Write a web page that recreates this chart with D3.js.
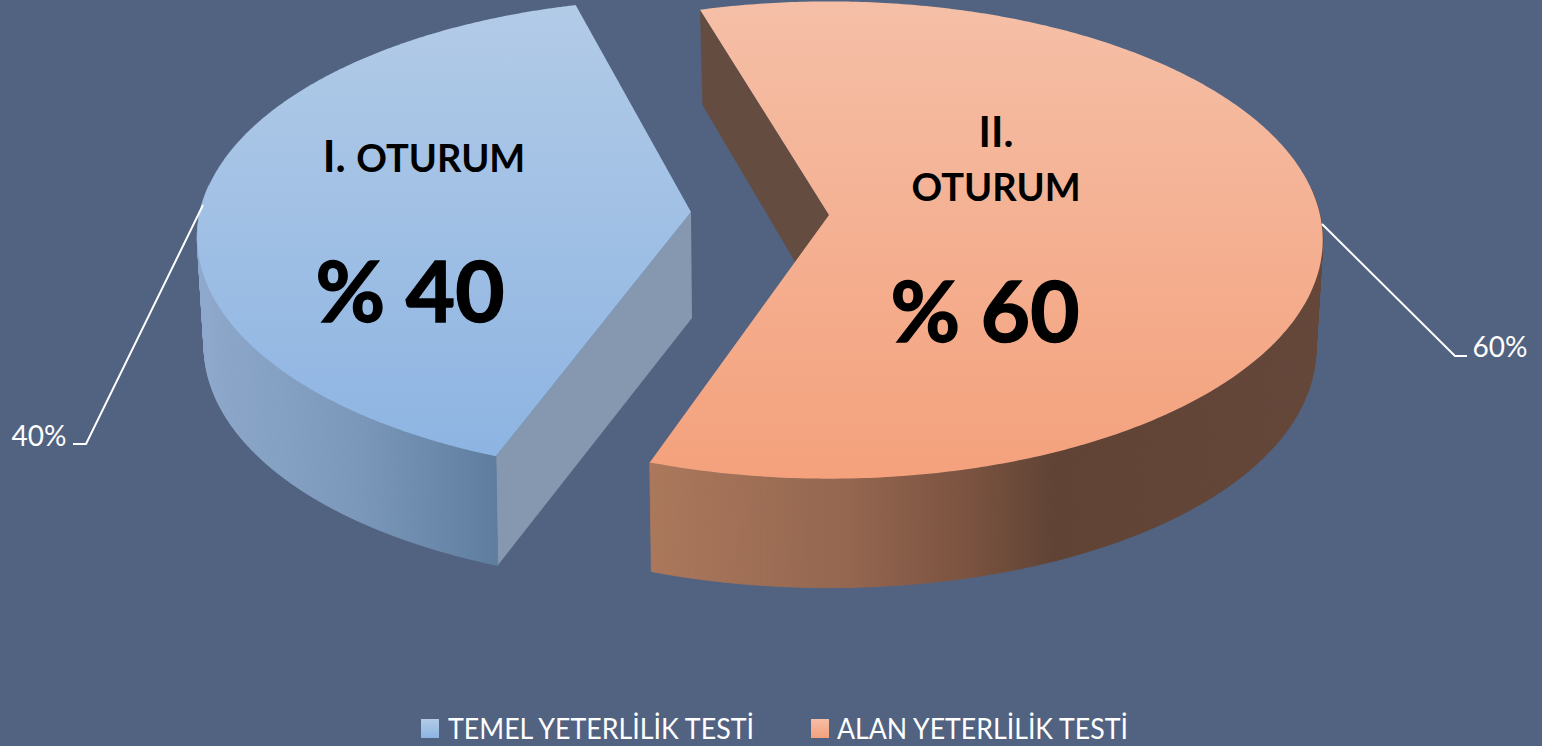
<!DOCTYPE html>
<html><head><meta charset="utf-8">
<style>html,body{margin:0;padding:0;background:#516381;overflow:hidden}svg{display:block}text{font-family:Lato,sans-serif}</style>
<script src="https://cdn.jsdelivr.net/npm/d3@7"></script>
</head><body><svg id="c" width="1542" height="746"></svg>
<script>
const seriesNames = ["TEMEL YETERLİLİK TESTİ", "ALAN YETERLİLİK TESTİ"];
const seriesValues = [40, 60];
const sliceLabels = ["40%", "60%"];

const W = 1542, H = 746;
const svg = d3.select("#c");
const defs = svg.append("defs");
const deg = Math.PI / 180;
const pie = d3.pie().sort(null).startAngle(199 * deg).endAngle((199 + 360) * deg);
const arcs = pie(seriesValues);

const R = 491, B = 236, K = 0.105, depth = 106, RB = 484, BB = 244, KB = 0.085, KX = 0.11;
const looks = [
  {c: [691, 212], rot: 2.0 * deg, top: ["#b2cbe7", "#8db4e2"], wall: [[0, "#8ea9cb"], [0.5, "#7c99bb"], [1, "#5e7d9e"]], face: "#8598b0", wx: [205, 501], ty: [5, 460]},
  {c: [829, 215], rot: 0.2 * deg, top: ["#f5bfa7", "#f4a17c"], wall: [[0, "#ab785b"], [0.3, "#946650"], [0.48, "#7a523f"], [0.6, "#614335"], [1, "#654739"]], face: "#644c40", wx: [650, 1320], ty: [2, 480]}
];
function topPt(c, a) {
  const u = Math.sin(a), v = -Math.cos(a), s = 1 / (1 - K * v);
  return [c[0] + R * u * s, c[1] + B * v * s];
}
function botPt(c, a) {
  const u = Math.sin(a), v = -Math.cos(a), s = 1 / (1 - KB * v), sx = 1 / (1 - KX * v);
  return [c[0] + RB * u * sx, c[1] + depth + BB * v * s];
}
const samples = (a0, a1) => d3.range(0, 361).map(i => a0 + (a1 - a0) * i / 360);
const line = d3.line();

arcs.forEach((d, i) => {
  const L = looks[i];
  const a0 = d.startAngle + L.rot, a1 = d.endAngle + L.rot;
  const gt = defs.append("linearGradient").attr("id", "top" + i).attr("gradientUnits", "userSpaceOnUse")
    .attr("x1", 0).attr("x2", 0).attr("y1", L.ty[0]).attr("y2", L.ty[1]);
  gt.append("stop").attr("offset", 0).attr("stop-color", L.top[0]);
  gt.append("stop").attr("offset", 1).attr("stop-color", L.top[1]);
  const gw = defs.append("linearGradient").attr("id", "wall" + i).attr("gradientUnits", "userSpaceOnUse")
    .attr("x1", L.wx[0]).attr("x2", L.wx[1]).attr("y1", 0).attr("y2", 0);
  L.wall.forEach(s => gw.append("stop").attr("offset", s[0]).attr("stop-color", s[1]));
  const c = L.c;
  const as = samples(a0, a1);
  // flat cut face at the slice's first edge
  svg.append("path").attr("d", line([c, topPt(c, a0), botPt(c, a0), [c[0] + 1, c[1] + depth]]) + "Z").attr("fill", L.face);
  // outer wall: swept quads on the viewer-facing part of the rim
  const front = as.filter(a => -Math.cos(a) > -0.12);
  const wall = svg.append("g").attr("fill", `url(#wall${i})`).attr("stroke", `url(#wall${i})`).attr("stroke-width", 0.8);
  d3.pairs(front).forEach(([p, q]) => {
    if (q - p > 0.1) return;
    wall.append("path").attr("d", line([topPt(c, p), topPt(c, q), botPt(c, q), botPt(c, p)]) + "Z");
  });
  // top surface
  svg.append("path").attr("d", line([c].concat(as.map(a => topPt(c, a)))) + "Z").attr("fill", `url(#top${i})`);
});

// leader lines and value labels
const leaders = [[[203, 205], [86, 444], [73, 444]], [[1322, 224], [1455, 356], [1467, 356]]];
leaders.forEach(p => svg.append("path").attr("d", line(p)).attr("fill", "none").attr("stroke", "#fff").attr("stroke-width", 2));
svg.append("text").attr("x", 39).attr("y", 446).attr("text-anchor", "middle").attr("font-size", 28).attr("fill", "#fff").text(sliceLabels[0]);
svg.append("text").attr("x", 1500).attr("y", 357).attr("text-anchor", "middle").attr("font-size", 28).attr("fill", "#fff").text(sliceLabels[1]);

// annotations
const ann = (x, y, size, t) => svg.append("text").attr("x", x).attr("y", y).attr("text-anchor", "middle").attr("font-size", size).attr("font-weight", 700).attr("fill", "#000").attr("stroke", "#000").attr("stroke-width", size > 60 ? 1.5 : 0).text(t);
const t1 = svg.append("text").attr("x", 424).attr("y", 172).attr("text-anchor", "middle").attr("font-weight", 700).attr("fill", "#000");
t1.append("tspan").attr("font-size", 43).text("I. ");
t1.append("tspan").attr("font-size", 38).text("OTURUM");
ann(410, 322, 85, "% " + seriesValues[0]);
ann(996, 147, 42, "II.");
ann(996, 201, 38, "OTURUM");
ann(985, 342, 85, "% " + seriesValues[1]);

// legend
const lg = [{sx: 421, tx: 448, w: 306, i: 0}, {sx: 811, tx: 837, w: 291, i: 1}];
lg.forEach(o => {
  const g = defs.append("linearGradient").attr("id", "lg" + o.i).attr("x1", 0).attr("x2", 0).attr("y1", 0).attr("y2", 1);
  g.append("stop").attr("offset", 0).attr("stop-color", looks[o.i].top[0]);
  g.append("stop").attr("offset", 1).attr("stop-color", looks[o.i].top[1]);
  svg.append("rect").attr("x", o.sx).attr("y", 719).attr("width", 18).attr("height", 19).attr("fill", `url(#lg${o.i})`);
  svg.append("text").attr("x", o.tx).attr("y", 739).attr("font-size", 28).attr("textLength", o.w).attr("lengthAdjust", "spacingAndGlyphs").attr("fill", "#fff").text(seriesNames[o.i]);
});
</script></body></html>
